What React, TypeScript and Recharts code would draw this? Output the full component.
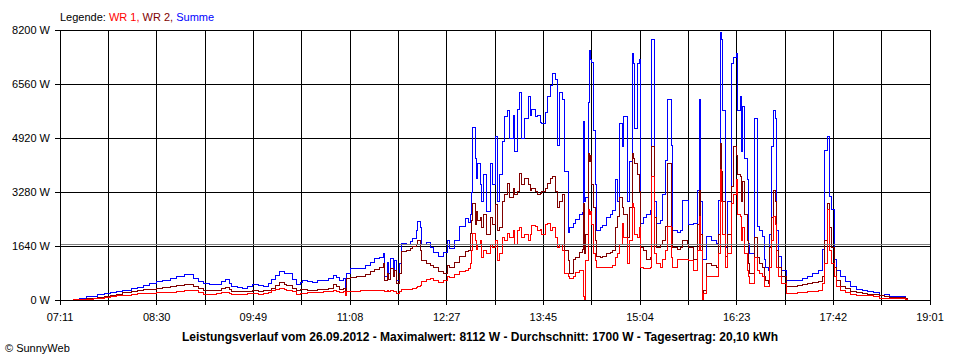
import React from "react";
import {
  CartesianGrid,
  Line,
  LineChart,
  ReferenceLine,
  XAxis,
  YAxis,
} from "recharts";

// sample times (hh:mm) of 26.09.2012
const times = [
  "07:22", "07:27", "07:33", "07:38", "07:42", "07:47", "07:52", "07:57", "08:02", "08:09",
  "08:14", "08:19", "08:24", "08:30", "08:35", "08:41", "08:46", "08:53", "09:00", "09:04",
  "09:08", "09:13", "09:19", "09:23", "09:26", "09:29", "09:31", "09:36", "09:40", "09:44",
  "09:48", "09:53", "09:57", "10:01", "10:04", "10:07", "10:10", "10:14", "10:16", "10:21",
  "10:24", "10:27", "10:29", "10:33", "10:37", "10:41", "10:46", "10:50", "10:54", "10:57",
  "10:59", "11:02", "11:04", "11:05", "11:08", "11:13", "11:16", "11:20", "11:24", "11:28",
  "11:32", "11:35", "11:36", "11:38", "11:39", "11:41", "11:43", "11:44", "11:46", "11:48",
  "11:50", "11:54", "11:57", "11:59", "12:02", "12:03", "12:05", "12:06", "12:10", "12:13",
  "12:16", "12:20", "12:24", "12:27", "12:29", "12:33", "12:37", "12:42", "12:44", "12:46",
  "12:47", "12:48", "12:50", "12:51", "12:52", "12:54", "12:55", "12:57", "12:59", "13:02",
  "13:04", "13:06", "13:08", "13:10", "13:12", "13:14", "13:16", "13:18", "13:21", "13:22",
  "13:24", "13:26", "13:28", "13:30", "13:33", "13:35", "13:36", "13:39", "13:41", "13:43",
  "13:44", "13:47", "13:49", "13:51", "13:53", "13:55", "13:57", "13:59", "14:01", "14:03",
  "14:06", "14:07", "14:10", "14:12", "14:15", "14:17", "14:18", "14:19", "14:20", "14:22",
  "14:23", "14:24", "14:25", "14:26", "14:28", "14:29", "14:32", "14:34", "14:37", "14:40",
  "14:42", "14:44", "14:46", "14:48", "14:50", "14:51", "14:54", "14:56", "14:58", "14:59",
  "15:00", "15:02", "15:04", "15:05", "15:07", "15:10", "15:13", "15:14", "15:16", "15:18",
  "15:21", "15:23", "15:25", "15:27", "15:30", "15:31", "15:35", "15:37", "15:39", "15:43",
  "15:44", "15:48", "15:51", "15:53", "15:54", "15:55", "15:56", "15:59", "16:03", "16:07",
  "16:08", "16:10", "16:11", "16:12", "16:14", "16:16", "16:19", "16:21", "16:23", "16:24",
  "16:26", "16:27", "16:28", "16:30", "16:32", "16:33", "16:34", "16:37", "16:38", "16:40",
  "16:42", "16:44", "16:46", "16:47", "16:49", "16:50", "16:52", "16:53", "16:55", "16:56",
  "16:57", "17:00", "17:04", "17:08", "17:13", "17:17", "17:21", "17:25", "17:30", "17:33",
  "17:35", "17:37", "17:39", "17:41", "17:43", "17:45", "17:48", "17:52", "17:56", "18:01",
  "18:06", "18:10", "18:15", "18:20", "18:24", "18:28", "18:32", "18:36", "18:41", "18:43",
];

// Summe (W)
const summe = [
  20, 50, 100, 110, 170, 190, 220, 250, 300, 350,
  390, 450, 500, 550, 600, 660, 720, 780, 660, 560,
  490, 470, 480, 560, 630, 500, 400, 380, 360, 400,
  480, 430, 420, 500, 620, 750, 880, 820, 800, 620,
  480, 520, 600, 560, 520, 580, 600, 640, 740, 680,
  600, 640, 150, 810, 960, 960, 960, 1040, 1150, 1250,
  1300, 1420, 700, 1150, 800, 1250, 900, 1200, 600, 1100,
  1720, 1700, 1780, 1870, 2100, 2380, 2200, 1700, 1750, 1600,
  1450, 1320, 1450, 1820, 1570, 1800, 2225, 2490, 2350, 2600,
  3250, 5250, 4300, 3700, 4150, 3500, 3000, 3800, 2700, 4150,
  3500, 4960, 3000, 3800, 4800, 5570, 5770, 4900, 5600, 4500,
  5800, 6315, 4900, 5500, 6175, 5600, 5800, 5570, 5600, 5400,
  5370, 5700, 6175, 6500, 6885, 6700, 4700, 6300, 6100, 3900,
  2035, 2200, 2330, 2430, 2600, 2670, 5415, 3000, 3100, 6000,
  7590, 7300, 7200, 5160, 3500, 2125, 2200, 2250, 2520, 2600,
  2730, 3645, 3000, 5370, 4655, 5570, 3000, 4200, 7490, 7190,
  5200, 7190, 7290, 2330, 2500, 2600, 2730, 7900, 3000, 2330,
  2400, 3200, 4250, 6075, 4700, 2125, 2035, 2100, 3035, 3035,
  2300, 2330, 3340, 6075, 3000, 1215, 1215, 1920, 1800, 1720,
  3035, 8112, 7900, 5770, 1600, 3000, 7190, 7380, 7490, 5770,
  6175, 4500, 5870, 4300, 3645, 1720, 1420, 1420, 5520, 2225,
  2100, 1920, 1215, 1000, 910, 2000, 4655, 5770, 5500, 2125,
  1315, 910, 607, 600, 607, 650, 700, 810, 910, 1520,
  4555, 4960, 3140, 2735, 1215, 900, 700, 550, 395, 330,
  300, 250, 220, 150, 170, 100, 110, 110, 60, 10,
];

// WR 2 (W)
const wr2 = [
  10, 30, 60, 60, 80, 110, 130, 170, 220, 260,
  290, 320, 330, 340, 370, 400, 440, 470, 420, 340,
  300, 300, 300, 340, 380, 320, 250, 250, 250, 260,
  300, 260, 280, 300, 350, 430, 530, 470, 450, 340,
  300, 320, 310, 300, 300, 310, 330, 360, 480, 420,
  330, 350, 150, 660, 680, 700, 710, 780, 860, 940,
  990, 1115, 600, 800, 620, 950, 700, 900, 500, 800,
  1465, 1500, 1550, 1620, 1700, 1820, 1500, 1200, 1120, 1060,
  1000, 860, 820, 1060, 1000, 1150, 1315, 1465, 1500, 2030,
  2400, 2935, 2300, 2700, 2400, 2500, 2200, 2600, 2000, 2500,
  2300, 2900, 2100, 2200, 3000, 3200, 3545, 3100, 3400, 3200,
  3300, 3850, 3500, 3700, 3500, 3340, 3400, 3300, 3200, 3240,
  3300, 3400, 3550, 3700, 3745, 3300, 2800, 3000, 3200, 1500,
  1200, 800, 1215, 1300, 1450, 1520, 2935, 1400, 2000, 4455,
  4200, 4400, 3500, 2800, 1800, 1315, 1300, 1315, 1400, 1450,
  1500, 2200, 2530, 3100, 2800, 2600, 1900, 2800, 4455, 4300,
  4150, 3800, 3300, 1600, 1500, 1215, 1300, 4655, 2500, 1600,
  1700, 1800, 2225, 4150, 2200, 1600, 1520, 1600, 1820, 1700,
  1600, 1215, 2300, 3340, 2000, 0, 300, 1100, 1050, 1000,
  2000, 4760, 3900, 3000, 1315, 2000, 3440, 4655, 4400, 3800,
  3750, 3000, 3600, 2600, 1820, 1100, 820, 820, 1900, 1300,
  1100, 1000, 700, 600, 510, 1600, 2500, 3340, 3000, 1500,
  1000, 700, 395, 400, 455, 480, 510, 520, 560, 700,
  1820, 2935, 2200, 1600, 1000, 600, 395, 350, 250, 220,
  200, 180, 160, 150, 100, 80, 80, 80, 40, 10,
];

// WR 1 (W)
const wr1 = [
  10, 20, 30, 40, 60, 90, 110, 130, 150, 170,
  190, 200, 210, 220, 230, 240, 260, 300, 280, 220,
  170, 180, 190, 220, 240, 200, 160, 170, 180, 200,
  190, 180, 200, 230, 280, 320, 360, 320, 300, 250,
  180, 210, 200, 220, 230, 230, 250, 270, 280, 260,
  230, 250, 150, 250, 250, 260, 280, 280, 280, 280,
  280, 280, 250, 280, 260, 280, 250, 270, 200, 250,
  320, 330, 330, 340, 380, 420, 450, 550, 620, 660,
  600, 520, 580, 710, 680, 760, 860, 900, 950, 1115,
  1500, 2030, 1800, 1520, 1700, 1800, 1300, 1500, 1400, 1700,
  1600, 1800, 1200, 1400, 1900, 1800, 2030, 1900, 2100, 1700,
  2125, 2200, 1900, 2000, 1800, 2000, 2250, 2225, 2100, 2150,
  2000, 2280, 2330, 2100, 2200, 1900, 1600, 1700, 1500, 800,
  700, 650, 700, 850, 900, 910, 100, 0, 1200, 2735,
  2600, 2700, 2300, 1400, 1200, 1000, 1000, 1000, 1000, 1000,
  1050, 1300, 1400, 1700, 2330, 1900, 1100, 1800, 2935, 2800,
  2000, 1900, 2200, 1000, 970, 970, 1000, 3750, 1400, 1100,
  1000, 1215, 1500, 2225, 1300, 1000, 1215, 1215, 1215, 1215,
  1200, 910, 1500, 2530, 1500, 0, 200, 700, 700, 700,
  1400, 3950, 3000, 2000, 1000, 1400, 2935, 3200, 3645, 2600,
  2530, 1800, 2200, 1400, 910, 700, 510, 510, 1300, 910,
  800, 700, 400, 400, 400, 1000, 1800, 2530, 2300, 1000,
  700, 500, 200, 200, 220, 240, 250, 260, 300, 500,
  1100, 2735, 1500, 1100, 700, 400, 300, 220, 170, 150,
  150, 140, 120, 60, 60, 60, 60, 60, 30, 10,
];

const yTicks = [0, 1640, 3280, 4920, 6560, 8200];
const xTickLabels = ["07:11", "08:30", "09:49", "11:08", "12:27", "13:45", "15:04", "16:23", "17:42", "19:01"];
const durchschnitt = 1700;

const font = "'Liberation Sans', Arial, sans-serif";

const toMinutes = (s: string) => {
  const [h, m] = s.split(":").map(Number);
  return h * 60 + m;
};

const data = times.map((t, i) => ({
  t: toMinutes(t),
  wr1: wr1[i],
  wr2: wr2[i],
  summe: summe[i],
}));

const xStart = toMinutes(xTickLabels[0]);
const xEnd = toMinutes(xTickLabels[xTickLabels.length - 1]);
// gridline at every label and halfway between
const xTicks = Array.from({ length: 19 }, (_, i) => xStart + ((xEnd - xStart) * i) / 18);

const App = () => {
  return (
    <div
      style={{
        position: "absolute",
        left: 0,
        top: 0,
        width: 960,
        height: 360,
        background: "#fff",
        fontFamily: font,
        color: "#000",
      }}
    >
      <style>{`.sunny svg path, .sunny svg line { shape-rendering: crispEdges; }`}</style>
      <div style={{ position: "absolute", left: 60, top: 11, fontSize: 11, lineHeight: "12px", whiteSpace: "nowrap" }}>
        Legende: <span style={{ color: "#ff0000" }}>WR 1,</span>{" "}
        <span style={{ color: "#800000" }}>WR 2,</span>{" "}
        <span style={{ color: "#0000ff" }}>Summe</span>
      </div>
      <div className="sunny">
        <LineChart
          width={960}
          height={360}
          data={data}
          margin={{ top: 30, right: 30, bottom: 30, left: 0 }}
        >
          <CartesianGrid stroke="#000" strokeWidth={1} />
          <XAxis
            dataKey="t"
            type="number"
            domain={[xStart, xEnd]}
            ticks={xTicks}
            interval={0}
            height={30}
            tickSize={5}
            tickMargin={8}
            axisLine={{ stroke: "#000" }}
            tickLine={{ stroke: "#000" }}
            tick={{ fill: "#000", fontSize: 11, fontFamily: font }}
            tickFormatter={(_v: number, i: number) => (i % 2 === 0 ? xTickLabels[i / 2] : "")}
          />
          <YAxis
            type="number"
            domain={[0, 8200]}
            ticks={yTicks}
            width={60}
            tickSize={5}
            tickMargin={5}
            axisLine={{ stroke: "#000" }}
            tickLine={{ stroke: "#000" }}
            tick={{ fill: "#000", fontSize: 11, fontFamily: font }}
            tickFormatter={(v: number) => `${v} W`}
          />
          <Line type="stepAfter" dataKey="summe" stroke="#0000ff" strokeWidth={1} dot={false} isAnimationActive={false} />
          <Line type="stepAfter" dataKey="wr2" stroke="#800000" strokeWidth={1} dot={false} isAnimationActive={false} />
          <Line type="stepAfter" dataKey="wr1" stroke="#ff0000" strokeWidth={1} dot={false} isAnimationActive={false} />
          <ReferenceLine y={durchschnitt} stroke="#808080" strokeWidth={1} />
        </LineChart>
      </div>
      <div
        style={{
          position: "absolute",
          left: 0,
          width: 960,
          top: 331,
          textAlign: "center",
          fontSize: 12,
          fontWeight: "bold",
          lineHeight: "12px",
          whiteSpace: "nowrap",
        }}
      >
        Leistungsverlauf vom 26.09.2012 - Maximalwert: 8112 W - Durchschnitt: 1700 W - Tagesertrag: 20,10 kWh
      </div>
      <div style={{ position: "absolute", left: 5, top: 342, fontSize: 11, lineHeight: "12px", whiteSpace: "nowrap" }}>
        © SunnyWeb
      </div>
    </div>
  );
};

export default App;
